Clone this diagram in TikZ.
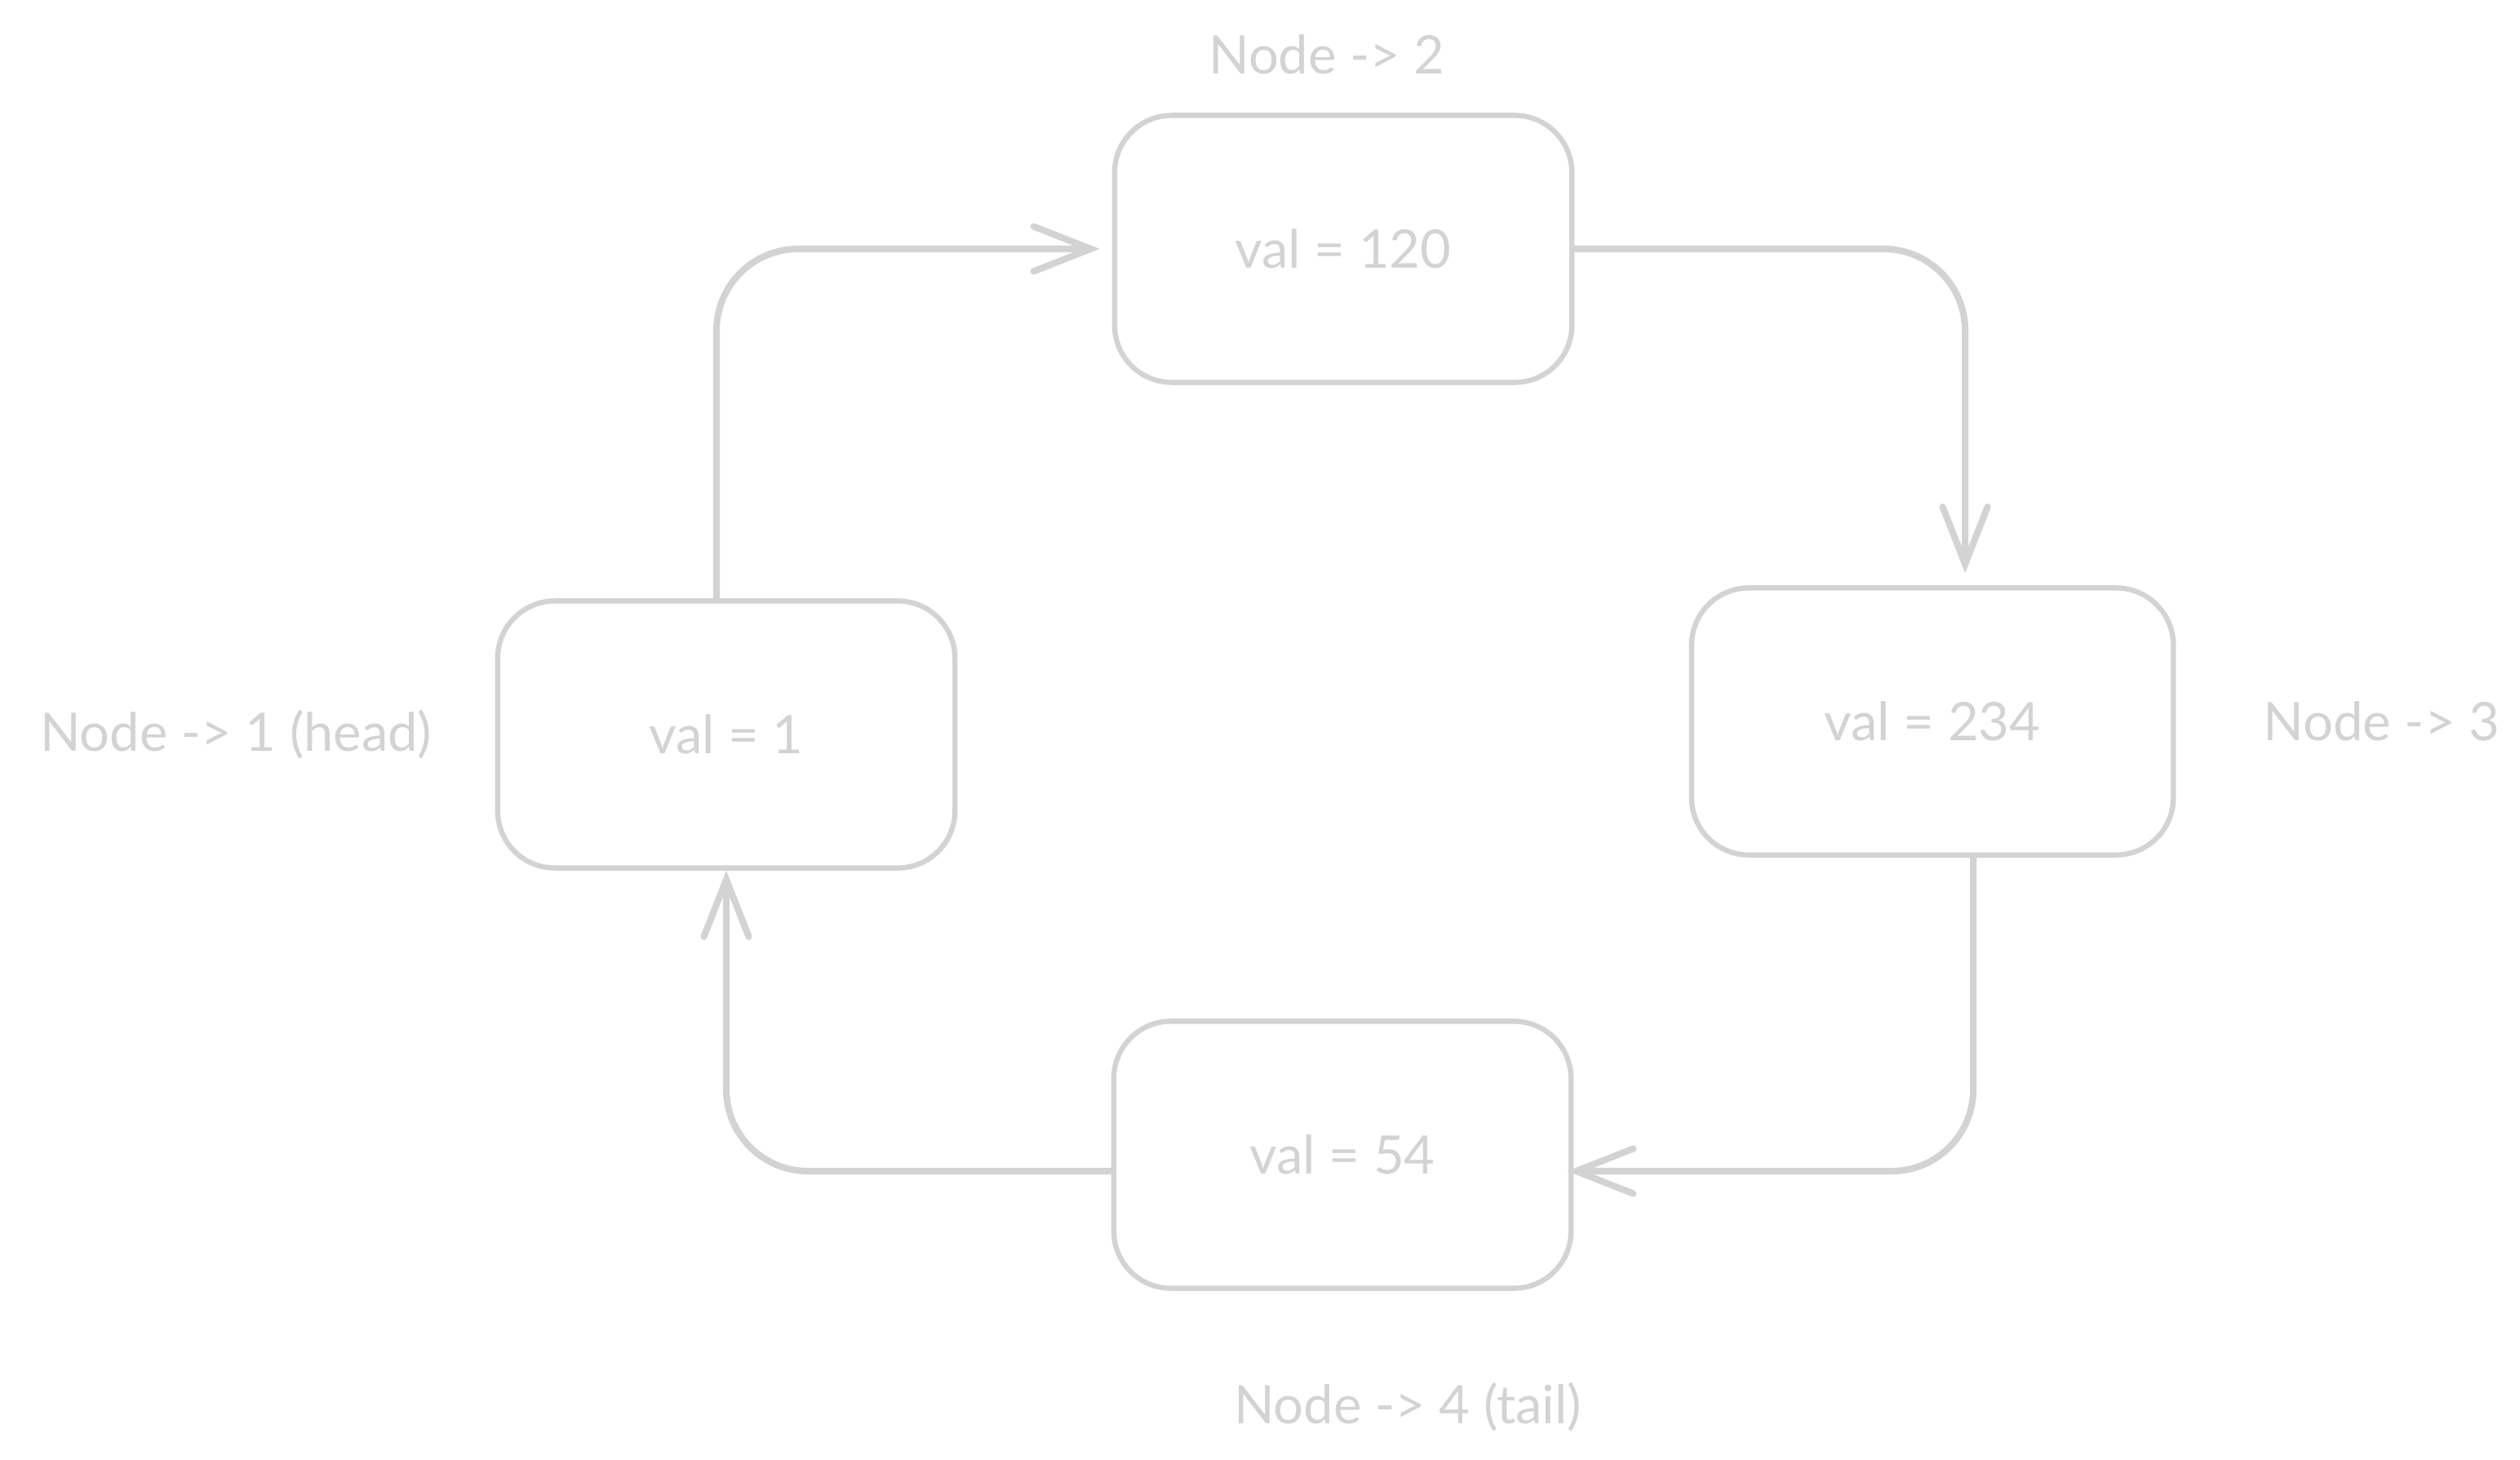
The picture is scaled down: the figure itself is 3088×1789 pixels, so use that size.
\documentclass[tikz,border=0pt]{standalone}
\usepackage{fontspec}
\setmainfont{Lato}
\usetikzlibrary{arrows.meta,positioning}

\definecolor{sketch}{HTML}{D3D3D3}

\begin{document}
\begin{tikzpicture}[
  x=0.01cm, y=-0.01cm,
  box/.style={draw=sketch, line width=1.8pt, rounded corners=7mm, minimum width=5.6cm,
    minimum height=3.27cm, text=sketch, font=\fontsize{18.5}{22}\selectfont},
  tag/.style={text=sketch, font=\fontsize{18.5}{22}\selectfont},
  arrow/.style={draw=sketch, line width=2.3pt, line cap=round, rounded corners=1cm,
    -{Straight Barb[length=7mm, width=5.5mm, line cap=round]}}
]
\useasboundingbox (0,0) rectangle (3088,1789);

\node[box] (n1) at (890,900)   {val = 1};
\node[box] (n2) at (1646,305)  {val = 120};
\node[box, minimum width=5.9cm] (n3) at (2368,884) {val = 234};
\node[box] (n4) at (1645,1415) {val = 54};

% names of the list entries
\node[tag, above=3.5mm of n2, xshift=-2mm] (t2) {Node -> 2};
\node[tag, left=6.5mm of n1] (t1) {Node -> 1 (head)};
\node[tag, right=9.5mm of n3] (t3) {Node -> 3};
\node[tag, below=10mm of n4, xshift=8mm] (t4) {Node -> 4 (tail)};

\draw[arrow, shorten >=1.5mm] ([xshift=-1.2mm]n1.north) |- (n2.west);
\draw[arrow, shorten >=1.5mm] (n2.east) -| ([xshift=4mm]n3.north);
\draw[arrow, shorten >=-0.8mm] ([xshift=5mm]n3.south) |- ([yshift=-2mm]n4.east);
\draw[arrow] ([yshift=-2mm]n4.west) -| (n1.south);

\end{tikzpicture}
\end{document}
